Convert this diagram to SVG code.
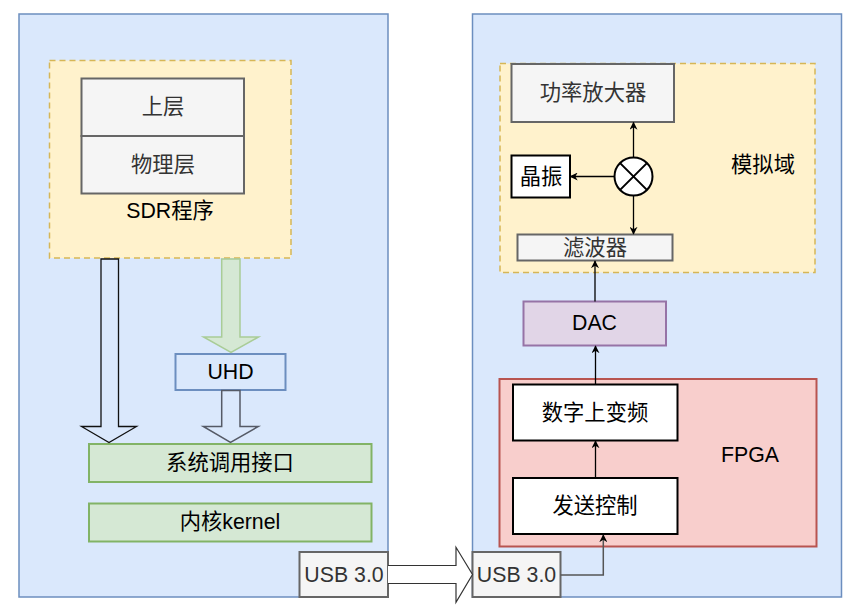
<svg xmlns="http://www.w3.org/2000/svg" width="864" height="608" viewBox="0 0 864 608">
<defs>
<style>
text{font-family:"Liberation Sans","Noto Sans CJK SC",sans-serif;font-size:21.3px;fill:#000;text-anchor:middle;dominant-baseline:central}
.blue{fill:#dae8fc;stroke:#6c8ebf;stroke-width:1.5}
.yel{fill:#fff2cc;stroke:#d6b656;stroke-width:1.5;stroke-dasharray:6 4}
.gray{fill:#f5f5f5;stroke:#666666;stroke-width:2}
.green{fill:#d5e8d4;stroke:#82b366;stroke-width:2}
.purple{fill:#e1d5e7;stroke:#9673a6;stroke-width:2}
.red{fill:#f8cecc;stroke:#b85450;stroke-width:2}
.white{fill:#ffffff;stroke:#000000;stroke-width:2}
.gt{fill:#333333}
.conn{fill:none;stroke:#000;stroke-width:1.3}
</style>
<marker id="ah" viewBox="0 0 10 10" refX="9" refY="5" markerWidth="8" markerHeight="8" markerUnits="userSpaceOnUse" orient="auto">
<path d="M0,0 L10,5 L0,10 L3,5 Z" fill="#000"/>
</marker>
</defs>

<g id="host">
<rect class="blue" x="19" y="14" width="369" height="583"/>
</g>
<g id="device">
<rect class="blue" x="472.5" y="14" width="369" height="583"/>
</g>

<g id="sdr">
<rect class="yel" x="49.5" y="60.5" width="241.5" height="197.5"/>
<text x="170" y="211">SDR程序</text>
</g>
<g id="upper">
<rect class="gray" x="81.5" y="78.5" width="162.5" height="57.5"/>
<text class="gt" x="163" y="107">上层</text>
</g>
<g id="phy">
<rect class="gray" x="81.5" y="136" width="162.5" height="57.5"/>
<text class="gt" x="163" y="165">物理层</text>
</g>
<g id="uhd">
<rect fill="#dae8fc" stroke="#6c8ebf" stroke-width="2" x="175.5" y="354" width="110" height="36"/>
<text x="230.5" y="372">UHD</text>
</g>
<g id="syscall">
<rect class="green" x="89" y="444" width="282.5" height="38"/>
<text x="230" y="463">系统调用接口</text>
</g>
<g id="kernel">
<rect class="green" x="89" y="503.5" width="282.5" height="38"/>
<text x="230" y="522">内核kernel</text>
</g>
<g id="usb-host">
<rect class="gray" x="299.5" y="552" width="88.5" height="45"/>
<text class="gt" x="344" y="575">USB 3.0</text>
</g>

<g id="analog">
<rect class="yel" x="500" y="63.5" width="315" height="209"/>
<text x="763" y="165">模拟域</text>
</g>
<g id="pa">
<rect class="gray" x="511.5" y="64" width="162.5" height="58"/>
<text class="gt" x="593" y="93">功率放大器</text>
</g>
<g id="osc">
<rect class="white" x="511.5" y="155.5" width="58.5" height="42"/>
<text x="541" y="177">晶振</text>
</g>
<g id="mixer">
<circle cx="633.5" cy="176.5" r="19" fill="#fff" stroke="#000" stroke-width="2"/>
<path d="M620.1,163.1 L646.9,189.9 M646.9,163.1 L620.1,189.9" stroke="#000" stroke-width="2"/>
</g>
<g id="filter">
<rect class="gray" x="517.5" y="234.5" width="155" height="26"/>
<text class="gt" x="595" y="247.5">滤波器</text>
</g>
<g id="dac">
<rect class="purple" x="523.5" y="301.5" width="142.5" height="44"/>
<text x="594.5" y="323">DAC</text>
</g>
<g id="fpga">
<rect class="red" x="499.5" y="379" width="317" height="167.5"/>
<text x="750" y="455">FPGA</text>
</g>
<g id="duc">
<rect class="white" x="513" y="384.5" width="164.5" height="56"/>
<text x="595" y="412.5">数字上变频</text>
</g>
<g id="txctrl">
<rect class="white" x="513" y="478" width="164.5" height="56"/>
<text x="595" y="506">发送控制</text>
</g>
<g id="usb-dev">
<rect class="gray" x="472.5" y="552" width="88" height="45"/>
<text class="gt" x="516.5" y="575">USB 3.0</text>
</g>

<g id="connectors">
<path d="M101,259 L118.5,259 L118.5,426.5 L136.5,426.5 L109,442.5 L81.5,426.5 L101,426.5 Z" fill="none" stroke="#111" stroke-width="1.3"/>
<path d="M221.7,259 L240,259 L240,337 L258.5,337 L231,352.5 L203.5,337 L221.7,337 Z" fill="#d5e8d4" stroke="#a9cc97" stroke-width="1.5"/>
<path d="M221.7,390.5 L240,390.5 L240,426.5 L258.3,426.5 L230.5,442.5 L203.3,426.5 L221.7,426.5 Z" fill="none" stroke="#555a66" stroke-width="1.5"/>
<path d="M388,565.5 L456,565.5 L456,547.3 L472.5,574.5 L456,602.3 L456,583.5 L388,583.5" fill="#fff" stroke="#333" stroke-width="1.2"/>
<path class="conn" d="M633.5,157.5 L633.5,122.5" marker-end="url(#ah)"/>
<path class="conn" d="M614.5,176.5 L570.5,176.5" marker-end="url(#ah)"/>
<path class="conn" d="M633.5,195.5 L633.5,234" marker-end="url(#ah)"/>
<path class="conn" d="M595,301.5 L595,261" marker-end="url(#ah)"/>
<path class="conn" d="M595.5,384.5 L595.5,346" marker-end="url(#ah)"/>
<path class="conn" d="M595.5,478 L595.5,441" marker-end="url(#ah)"/>
<path d="M560.5,575 L603.3,575 L603.3,535" fill="none" stroke="#555" stroke-width="1.5" marker-end="url(#ah)"/>
</g>
</svg>
